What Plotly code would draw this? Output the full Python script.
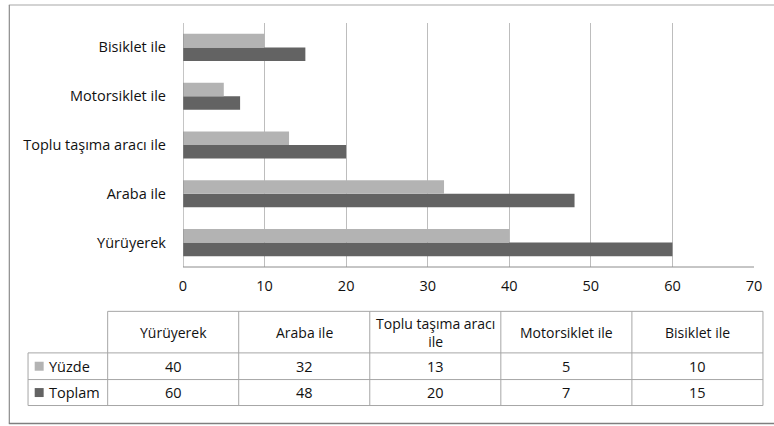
import plotly.graph_objects as go

categories = ["Yürüyerek", "Araba ile", "Toplu taşıma aracı ile", "Motorsiklet ile", "Bisiklet ile"]
table_headers = ["Yürüyerek", "Araba ile", "Toplu taşıma aracı<br>ile", "Motorsiklet ile", "Bisiklet ile"]
yuzde = [40, 32, 13, 5, 10]
toplam = [60, 48, 20, 7, 15]
series_names = ["Yüzde", "Toplam"]
x_ticks = [0, 10, 20, 30, 40, 50, 60, 70]

LIGHT = "#b3b3b3"
DARK = "#636363"
TEXT = "#111111"
FONT = "Open Sans"
FS = 14.5

W, H = 774, 426
PL, PR, PT, PB = 183, 756.7, 23, 267.3  # plot area in pixels

def px(x):
    return (x - PL) / (PR - PL)

def py(y):
    return (PB - y) / (PB - PT)

fig = go.Figure()
fig.add_trace(go.Bar(y=categories, x=toplam, orientation="h", name=series_names[1],
                     marker=dict(color=DARK, line=dict(width=0))))
fig.add_trace(go.Bar(y=categories, x=yuzde, orientation="h", name=series_names[0],
                     marker=dict(color=LIGHT, line=dict(width=0))))

shapes = []
annotations = []

# outer chart border
shapes.append(dict(type="line", xref="paper", yref="paper", x0=px(8), x1=px(790), y0=py(5), y1=py(5),
                   line=dict(color="#c4c4c4", width=1.5)))
shapes.append(dict(type="line", xref="paper", yref="paper", x0=px(8.5), x1=px(8.5), y0=py(5), y1=py(424),
                   line=dict(color="#8c8c8c", width=1.2)))
shapes.append(dict(type="line", xref="paper", yref="paper", x0=px(8), x1=px(790), y0=py(424), y1=py(424),
                   line=dict(color="#7f7f7f", width=1.5)))

# data table
col_left = 107.3
col_w = (765.7 - 107.3) / 5
key_left = 27.3
row_tops = [311.7, 353.3, 380.0, 406.0]
LINE = dict(color="#a6a6a6", width=1)

def hline(x0, x1, y):
    shapes.append(dict(type="line", xref="paper", yref="paper", x0=px(x0), x1=px(x1), y0=py(y), y1=py(y), line=LINE))

def vline(x, y0, y1):
    shapes.append(dict(type="line", xref="paper", yref="paper", x0=px(x), x1=px(x), y0=py(y0), y1=py(y1), line=LINE))

hline(col_left, col_left + 5 * col_w, row_tops[0])
for y in row_tops[1:]:
    hline(key_left, col_left + 5 * col_w, y)
vline(key_left, row_tops[1], row_tops[3])
for i in range(6):
    vline(col_left + i * col_w, row_tops[0], row_tops[3])

def text(x, y, s, xanchor="center", size=FS):
    annotations.append(dict(xref="paper", yref="paper", x=px(x), y=py(y), text=s, showarrow=False,
                            xanchor=xanchor, yanchor="middle", font=dict(family=FONT, size=size, color=TEXT)))

for i, h in enumerate(table_headers):
    text(col_left + (i + 0.5) * col_w, (row_tops[0] + row_tops[1]) / 2 + 0.5, h, size=FS - 0.5)

rows = [yuzde, toplam]
colors = [LIGHT, DARK]
for r, (vals, name, c) in enumerate(zip(rows, series_names, colors)):
    yc = (row_tops[r + 1] + row_tops[r + 2]) / 2
    for i, v in enumerate(vals):
        text(col_left + (i + 0.5) * col_w, yc, str(v))
    shapes.append(dict(type="rect", xref="paper", yref="paper", x0=px(34), x1=px(43), y0=py(yc - 4.5), y1=py(yc + 4.5),
                       line=dict(width=0), fillcolor=c))
    text(46, yc, name, xanchor="left")

fig.update_layout(
    width=W, height=H,
    margin=dict(l=PL, r=W - PR, t=PT, b=H - PB, pad=0),
    paper_bgcolor="white", plot_bgcolor="white",
    barmode="group", bargap=0.445, bargroupgap=0,
    showlegend=False,
    font=dict(family=FONT, size=FS, color=TEXT),
    xaxis=dict(range=[0, 70], tickvals=x_ticks, showgrid=True, gridcolor="#bdbdbd", gridwidth=1,
               zeroline=False, showline=False, ticks="", ticklabelstandoff=8,
               tickfont=dict(family=FONT, size=FS, color=TEXT), fixedrange=True),
    yaxis=dict(categoryorder="array", categoryarray=categories, showgrid=False, zeroline=False,
               showline=False, ticks="", ticklabelstandoff=16,
               tickfont=dict(family=FONT, size=FS, color=TEXT), fixedrange=True),
    shapes=shapes + [
        dict(type="line", xref="x", yref="paper", x0=0, x1=0, y0=0, y1=1, line=dict(color="#8c8c8c", width=1)),
        dict(type="line", xref="paper", yref="paper", x0=0, x1=1, y0=0, y1=0, line=dict(color="#8c8c8c", width=1)),
    ],
    annotations=annotations,
)

fig.write_html("out.html", config={"displayModeBar": False},
               post_script="document.body.style.margin='0';document.body.style.overflow='hidden';")
